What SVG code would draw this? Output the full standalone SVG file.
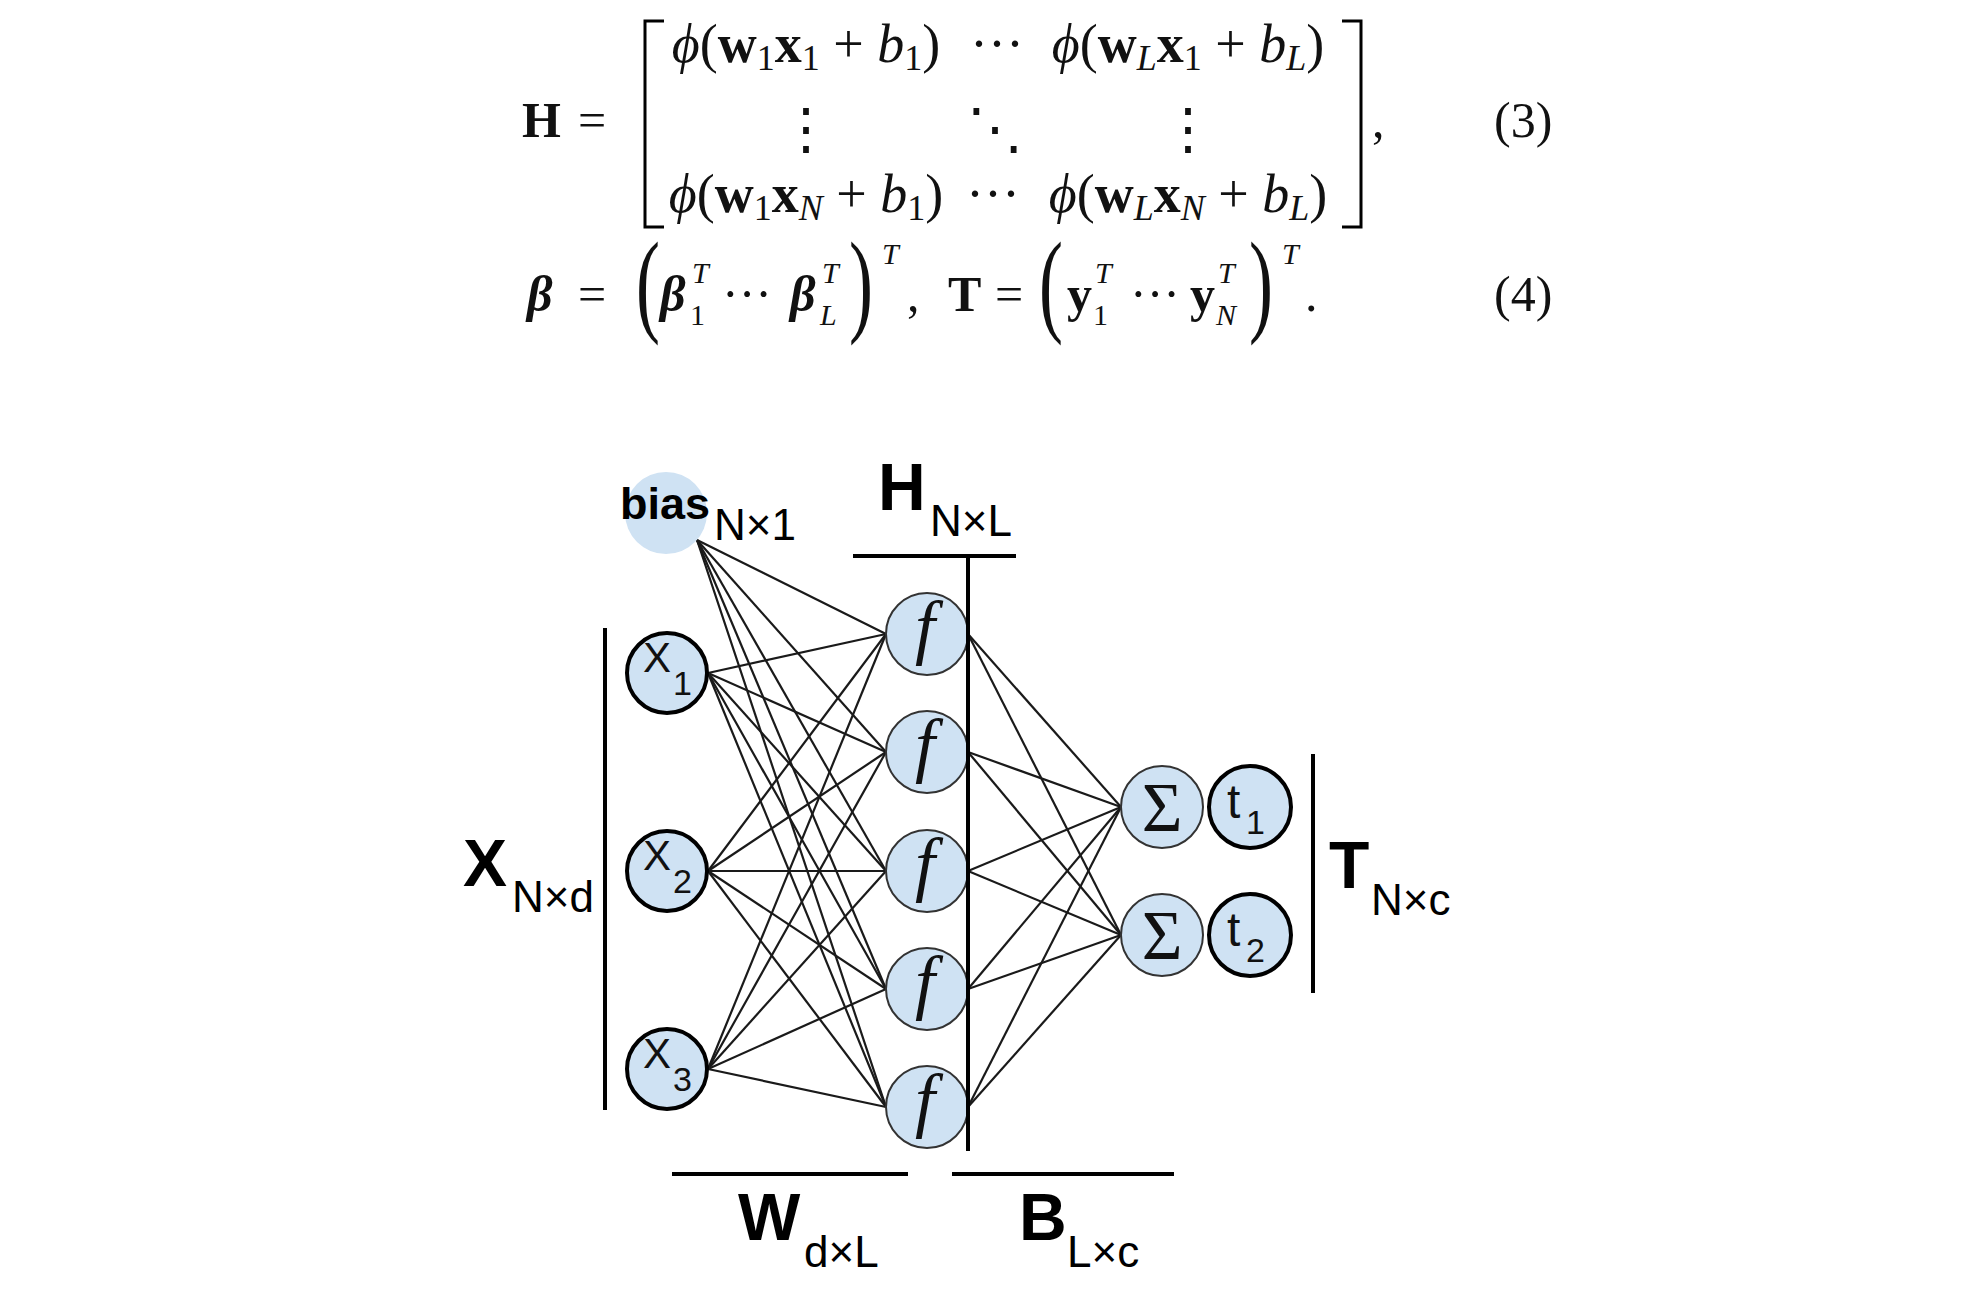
<svg xmlns="http://www.w3.org/2000/svg" width="1978" height="1316" viewBox="0 0 1978 1316">
<style>
.m{font-family:"Liberation Serif","DejaVu Serif",serif;font-size:50px;fill:#111}
.mm{font-size:54px}
.pr{font-size:60px}
.b{font-weight:bold}
.i{font-style:italic}
.bi{font-weight:bold;font-style:italic}
.sb{font-size:36px}
.ss{font-size:30px}
.dots{font-family:"DejaVu Serif","Liberation Serif",serif;font-size:56px;fill:#111}
.lbl{font-family:"Liberation Sans",Arial,sans-serif;font-weight:bold;font-size:66px;fill:#000}
.sub{font-family:"Liberation Sans",Arial,sans-serif;font-size:44px;fill:#000}
.bl{stroke:#000;stroke-width:4;fill:none}
.cx{fill:#cfe2f3;stroke:#000;stroke-width:4}
.cf{fill:#cfe2f3;stroke:#333;stroke-width:2}
.nl{font-family:"Liberation Sans",Arial,sans-serif;font-size:42px;fill:#111}
.ns{font-family:"Liberation Sans",Arial,sans-serif;font-size:34px;fill:#111}
.fl{font-family:"Liberation Serif","DejaVu Serif",serif;font-style:italic;font-size:72px;fill:#111}
.sg{font-family:"Liberation Serif","DejaVu Serif",serif;font-size:70px;fill:#111}
.c line{stroke:#1a1a1a;stroke-width:2.2}
</style>
<rect width="1978" height="1316" fill="#fff"/>

<!-- Equation (3) -->
<g id="eq3">
<text class="m b" x="522" y="137">H</text>
<text class="m" x="578" y="137">=</text>
<polyline class="bl" style="stroke-width:3" points="664,21 645,21 645,227 664,227"/>
<polyline class="bl" style="stroke-width:3" points="1342,21 1361,21 1361,227 1342,227"/>
<text class="m mm" x="806" y="62" text-anchor="middle"><tspan class="i">ϕ</tspan>(<tspan class="b">w</tspan><tspan class="sb" dy="8">1</tspan><tspan class="b" dy="-8">x</tspan><tspan class="sb" dy="8">1</tspan><tspan dy="-8"> + </tspan><tspan class="i">b</tspan><tspan class="sb" dy="8">1</tspan><tspan dy="-8">)</tspan></text>
<text class="m mm" x="997" y="62" text-anchor="middle">···</text>
<text class="m mm" x="1188" y="62" text-anchor="middle"><tspan class="i">ϕ</tspan>(<tspan class="b">w</tspan><tspan class="sb i" dy="8">L</tspan><tspan class="b" dy="-8">x</tspan><tspan class="sb" dy="8">1</tspan><tspan dy="-8"> + </tspan><tspan class="i">b</tspan><tspan class="sb i" dy="8">L</tspan><tspan dy="-8">)</tspan></text>
<text class="dots" x="806" y="148" text-anchor="middle">⋮</text>
<text class="dots" x="995" y="148" text-anchor="middle">⋱</text>
<text class="dots" x="1188" y="148" text-anchor="middle">⋮</text>
<text class="m mm" x="806" y="212" text-anchor="middle"><tspan class="i">ϕ</tspan>(<tspan class="b">w</tspan><tspan class="sb" dy="8">1</tspan><tspan class="b" dy="-8">x</tspan><tspan class="sb i" dy="8">N</tspan><tspan dy="-8"> + </tspan><tspan class="i">b</tspan><tspan class="sb" dy="8">1</tspan><tspan dy="-8">)</tspan></text>
<text class="m mm" x="993" y="212" text-anchor="middle">···</text>
<text class="m mm" x="1188" y="212" text-anchor="middle"><tspan class="i">ϕ</tspan>(<tspan class="b">w</tspan><tspan class="sb i" dy="8">L</tspan><tspan class="b" dy="-8">x</tspan><tspan class="sb i" dy="8">N</tspan><tspan dy="-8"> + </tspan><tspan class="i">b</tspan><tspan class="sb i" dy="8">L</tspan><tspan dy="-8">)</tspan></text>
<text class="m" x="1372" y="137">,</text>
<text class="m" x="1494" y="137">(3)</text>
</g>

<!-- Equation (4) -->
<g id="eq4">
<text class="m bi" x="527" y="311">β</text>
<text class="m" x="578" y="311">=</text>
<text class="m pr" transform="translate(636,321) scale(1.2,1.9)">(</text>
<text class="m bi" x="660" y="311">β</text>
<text class="m i ss" x="692" y="283">T</text>
<text class="m ss" x="690" y="325">1</text>
<text class="m" x="722" y="311">···</text>
<text class="m bi" x="790" y="311">β</text>
<text class="m i ss" x="822" y="283">T</text>
<text class="m i ss" x="820" y="325">L</text>
<text class="m pr" transform="translate(849,321) scale(1.2,1.9)">)</text>
<text class="m i ss" x="882" y="264">T</text>
<text class="m" x="907" y="311">,</text>
<text class="m b" x="948" y="311">T</text>
<text class="m" x="995" y="311">=</text>
<text class="m pr" transform="translate(1039,321) scale(1.2,1.9)">(</text>
<text class="m b" x="1067" y="311">y</text>
<text class="m i ss" x="1095" y="283">T</text>
<text class="m ss" x="1093" y="325">1</text>
<text class="m" x="1130" y="311">···</text>
<text class="m b" x="1190" y="311">y</text>
<text class="m i ss" x="1218" y="283">T</text>
<text class="m i ss" x="1216" y="325">N</text>
<text class="m pr" transform="translate(1249,321) scale(1.2,1.9)">)</text>
<text class="m i ss" x="1282" y="264">T</text>
<text class="m" x="1305" y="311">.</text>
<text class="m" x="1494" y="311">(4)</text>
</g>

<!-- Connectors -->
<g id="connectors" class="c">
<line x1="697" y1="540" x2="886" y2="634"/>
<line x1="697" y1="540" x2="886" y2="752"/>
<line x1="697" y1="540" x2="886" y2="871"/>
<line x1="697" y1="540" x2="886" y2="989"/>
<line x1="697" y1="540" x2="886" y2="1107"/>
<line x1="708" y1="673" x2="886" y2="634"/>
<line x1="708" y1="673" x2="886" y2="752"/>
<line x1="708" y1="673" x2="886" y2="871"/>
<line x1="708" y1="673" x2="886" y2="989"/>
<line x1="708" y1="673" x2="886" y2="1107"/>
<line x1="708" y1="871" x2="886" y2="634"/>
<line x1="708" y1="871" x2="886" y2="752"/>
<line x1="708" y1="871" x2="886" y2="871"/>
<line x1="708" y1="871" x2="886" y2="989"/>
<line x1="708" y1="871" x2="886" y2="1107"/>
<line x1="708" y1="1069" x2="886" y2="634"/>
<line x1="708" y1="1069" x2="886" y2="752"/>
<line x1="708" y1="1069" x2="886" y2="871"/>
<line x1="708" y1="1069" x2="886" y2="989"/>
<line x1="708" y1="1069" x2="886" y2="1107"/>
<line x1="968" y1="634" x2="1121" y2="807"/>
<line x1="968" y1="634" x2="1121" y2="935"/>
<line x1="968" y1="752" x2="1121" y2="807"/>
<line x1="968" y1="752" x2="1121" y2="935"/>
<line x1="968" y1="871" x2="1121" y2="807"/>
<line x1="968" y1="871" x2="1121" y2="935"/>
<line x1="968" y1="989" x2="1121" y2="807"/>
<line x1="968" y1="989" x2="1121" y2="935"/>
<line x1="968" y1="1107" x2="1121" y2="807"/>
<line x1="968" y1="1107" x2="1121" y2="935"/>
</g>

<!-- Nodes -->
<g id="bias">
<circle cx="666" cy="513" r="41" fill="#cfe2f3"/>
<text class="lbl" style="font-size:45px" x="620" y="519">bias</text>
<text class="sub" x="714" y="540">N×1</text>
</g>
<g id="x1"><circle class="cx" cx="667" cy="673" r="40"/><text class="nl" x="643" y="672">X<tspan class="ns" x="673" y="695">1</tspan></text></g>
<g id="x2"><circle class="cx" cx="667" cy="871" r="40"/><text class="nl" x="643" y="870">X<tspan class="ns" x="673" y="893">2</tspan></text></g>
<g id="x3"><circle class="cx" cx="667" cy="1069" r="40"/><text class="nl" x="643" y="1068">X<tspan class="ns" x="673" y="1091">3</tspan></text></g>

<g id="f1"><circle class="cf" cx="927" cy="634" r="41"/><text class="fl" x="925" y="651" text-anchor="middle">f</text></g>
<g id="f2"><circle class="cf" cx="927" cy="752" r="41"/><text class="fl" x="925" y="769" text-anchor="middle">f</text></g>
<g id="f3"><circle class="cf" cx="927" cy="871" r="41"/><text class="fl" x="925" y="888" text-anchor="middle">f</text></g>
<g id="f4"><circle class="cf" cx="927" cy="989" r="41"/><text class="fl" x="925" y="1006" text-anchor="middle">f</text></g>
<g id="f5"><circle class="cf" cx="927" cy="1107" r="41"/><text class="fl" x="925" y="1124" text-anchor="middle">f</text></g>

<g id="sum1"><circle class="cf" cx="1162" cy="807" r="41"/><text class="sg" x="1162" y="831" text-anchor="middle">Σ</text></g>
<g id="sum2"><circle class="cf" cx="1162" cy="935" r="41"/><text class="sg" x="1162" y="959" text-anchor="middle">Σ</text></g>

<g id="t1"><circle class="cx" cx="1250" cy="807" r="41"/><text class="nl" style="font-size:48px" x="1227" y="818">t<tspan class="ns" x="1246" y="834">1</tspan></text></g>
<g id="t2"><circle class="cx" cx="1250" cy="935" r="41"/><text class="nl" style="font-size:48px" x="1227" y="946">t<tspan class="ns" x="1246" y="962">2</tspan></text></g>

<!-- Matrix labels and brackets -->
<g id="label-H">
<line class="bl" x1="853" y1="556" x2="1016" y2="556"/>
<line class="bl" x1="968" y1="556" x2="968" y2="1151"/>
<text class="lbl" x="878" y="510">H</text>
<text class="sub" x="930" y="536">N×L</text>
</g>
<g id="label-X">
<line class="bl" x1="605" y1="628" x2="605" y2="1110"/>
<text class="lbl" x="463" y="886">X</text>
<text class="sub" x="512" y="912">N×d</text>
</g>
<g id="label-T">
<line class="bl" x1="1313" y1="754" x2="1313" y2="993"/>
<text class="lbl" x="1329" y="888">T</text>
<text class="sub" x="1371" y="915">N×c</text>
</g>
<g id="label-W">
<line class="bl" x1="672" y1="1174" x2="908" y2="1174"/>
<text class="lbl" x="738" y="1240">W</text>
<text class="sub" x="804" y="1267">d×L</text>
</g>
<g id="label-B">
<line class="bl" x1="952" y1="1174" x2="1174" y2="1174"/>
<text class="lbl" x="1019" y="1240">B</text>
<text class="sub" x="1067" y="1267">L×c</text>
</g>
</svg>
